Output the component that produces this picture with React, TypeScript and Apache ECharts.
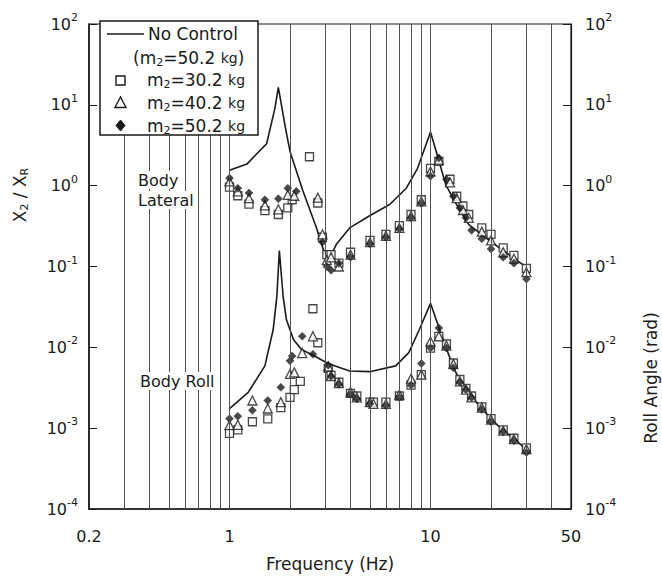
import React, { useEffect, useRef } from "react";
import * as echarts from "echarts";

const FONT = '"DejaVu Sans", "Liberation Sans", sans-serif';
const INK = "#1a1a1a";

// vertical reference lines (Hz)
const gridFrequencies = [0.3, 0.4, 0.5, 0.6, 0.7, 0.8, 0.9, 1, 2, 3, 4, 5, 6, 7, 8, 9, 10, 20, 30, 40];

// No Control (m2 = 50.2 kg) – Body Lateral, X2/XR
const lateralNoControl: [number, number][] = [
  [1.0, 1.55], [1.22, 1.85], [1.53, 3.3], [1.68, 8.9], [1.75, 16.4], [1.89, 5.5], [2.0, 2.65],
  [2.32, 0.86], [2.71, 0.3], [2.91, 0.17], [3.08, 0.12], [3.25, 0.15], [3.41, 0.19], [3.96, 0.3],
  [4.98, 0.425], [6.26, 0.585], [7.58, 0.93], [8.62, 1.64], [10.0, 4.6], [10.8, 2.4], [11.9, 1.03],
  [13.5, 0.58], [15.5, 0.33], [19.6, 0.21], [30, 0.098],
];

// No Control – Body Roll, roll angle (rad)
const rollNoControl: [number, number][] = [
  [1.0, 0.00175], [1.24, 0.00278], [1.5, 0.0059], [1.65, 0.0166], [1.72, 0.0423], [1.77, 0.157],
  [1.85, 0.042], [1.92, 0.0219], [2.08, 0.0125], [2.28, 0.0094], [2.65, 0.0078], [3.09, 0.0063],
  [3.96, 0.0051], [4.98, 0.005], [6.71, 0.0059], [7.8, 0.0086], [8.8, 0.0166], [10.0, 0.035],
  [11.1, 0.0166], [12.9, 0.0059], [14.4, 0.00336], [17.5, 0.0019], [20, 0.00131], [22.8, 0.00095],
  [26, 0.00075], [30, 0.00054],
];

// measured, m2 = 30.2 kg
const lateralM30: [number, number][] = [
  [1.0, 0.96], [1.1, 0.75], [1.25, 0.59], [1.5, 0.49], [1.75, 0.44], [1.95, 0.53], [2.05, 0.67],
  [2.5, 2.28], [2.75, 0.61], [2.9, 0.23], [3.05, 0.14], [3.2, 0.14], [3.5, 0.11], [4.0, 0.15],
  [5.0, 0.21], [6.0, 0.25], [7.0, 0.32], [8.0, 0.44], [9.0, 0.67], [10, 1.64], [11, 2.0],
  [12.5, 1.2], [13.5, 0.74], [14.5, 0.56], [15.5, 0.44], [18, 0.3], [20, 0.25], [23, 0.17],
  [26, 0.137], [30, 0.095],
];
const rollM30: [number, number][] = [
  [1.0, 0.00086], [1.1, 0.00095], [1.3, 0.0012], [1.55, 0.0013], [1.8, 0.0018], [2.0, 0.0024],
  [2.1, 0.003], [2.25, 0.0038], [2.6, 0.03], [2.75, 0.0114], [3.1, 0.0055], [3.2, 0.0045],
  [3.5, 0.0037], [4.0, 0.0027], [4.3, 0.0025], [5.0, 0.0021], [5.2, 0.0021], [6.0, 0.0021],
  [7.0, 0.0025], [8.0, 0.0034], [9.0, 0.0046], [10, 0.0098], [11, 0.0137], [12, 0.011],
  [13, 0.0064], [14, 0.004], [15, 0.0031], [16, 0.0025], [18, 0.00183], [20, 0.00131],
  [23, 0.00095], [26, 0.00075], [30, 0.00057],
];

// measured, m2 = 40.2 kg
const lateralM40: [number, number][] = [
  [1.0, 1.13], [1.1, 0.85], [1.25, 0.7], [1.5, 0.57], [1.75, 0.51], [1.95, 0.77], [2.1, 0.75],
  [2.75, 0.71], [2.9, 0.25], [3.05, 0.12], [3.2, 0.13], [3.5, 0.1], [4.0, 0.14], [5.0, 0.2],
  [6.0, 0.24], [7.0, 0.3], [8.0, 0.42], [9.0, 0.64], [10, 1.5], [11, 2.1], [12.5, 1.1],
  [13.5, 0.7], [14.5, 0.5], [15.5, 0.4], [18, 0.27], [20, 0.21], [23, 0.15], [26, 0.125],
  [30, 0.085],
];
const rollM40: [number, number][] = [
  [1.0, 0.00109], [1.1, 0.0011], [1.3, 0.0022], [1.55, 0.00175], [1.8, 0.0021], [2.0, 0.0047],
  [2.1, 0.0049], [2.3, 0.0085], [2.6, 0.0137], [3.1, 0.0058], [3.2, 0.0044], [3.5, 0.0036],
  [4.0, 0.0028], [4.3, 0.0024], [5.0, 0.0021], [5.2, 0.002], [6.0, 0.002], [7.0, 0.0026],
  [8.0, 0.0041], [9.0, 0.0046], [10, 0.0118], [11, 0.0137], [12, 0.0105], [13, 0.0062],
  [14, 0.0038], [15, 0.003], [16, 0.0024], [18, 0.0018], [20, 0.00128], [23, 0.00093],
  [26, 0.00073], [30, 0.00055],
];

// measured, m2 = 50.2 kg
const lateralM50: [number, number][] = [
  [1.0, 1.24], [1.1, 0.93], [1.25, 0.81], [1.5, 0.67], [1.75, 0.69], [1.95, 0.93], [2.15, 0.85],
  [2.9, 0.2], [3.05, 0.1], [3.2, 0.09], [3.5, 0.11], [4.0, 0.13], [5.0, 0.19], [6.0, 0.23],
  [7.0, 0.29], [8.0, 0.4], [9.0, 0.6], [10, 1.31], [11, 2.2], [12, 1.2], [13, 0.74], [14, 0.53],
  [15, 0.4], [16, 0.28], [18, 0.22], [20, 0.165], [23, 0.13], [26, 0.11], [30, 0.07],
];
const rollM50: [number, number][] = [
  [1.0, 0.00131], [1.1, 0.0014], [1.3, 0.00166], [1.55, 0.0022], [1.8, 0.0032], [2.0, 0.0068],
  [2.05, 0.0078], [2.3, 0.0137], [2.6, 0.0082], [3.1, 0.006], [3.2, 0.0044], [3.5, 0.0035],
  [4.0, 0.0026], [4.3, 0.0023], [5.0, 0.002], [6.0, 0.0019], [7.0, 0.0024], [8.0, 0.0034],
  [9.0, 0.0063], [10, 0.0098], [11, 0.0173], [12, 0.0098], [13, 0.0056], [14, 0.0037],
  [15, 0.003], [16, 0.0024], [18, 0.0017], [20, 0.0012], [23, 0.0009], [26, 0.0007],
  [30, 0.0005],
];

const legendLabels = ["No Control", "(m₂=50.2 kg)", "m₂=30.2 kg", "m₂=40.2 kg", "m₂=50.2 kg"];

const supRich = {
  b: { fontSize: 16, lineHeight: 24, fontFamily: FONT, color: INK },
  s: { fontSize: 11, lineHeight: 11, verticalAlign: "top", fontFamily: FONT, color: INK },
};

function yAxisFor(position: "left" | "right", margin: number) {
  return {
    type: "log",
    logBase: 10,
    min: 1e-4,
    max: 100,
    position,
    axisLine: { show: true, onZero: false, lineStyle: { color: INK, width: position === "left" ? 1.6 : 1.2 } },
    axisTick: { show: true, inside: true, length: 8, lineStyle: { color: INK, width: 1 } },
    splitLine: { show: false },
    minorTick: { show: false },
    axisLabel: {
      margin,
      formatter: (v: number) => `{b|10}{s|${Math.round(Math.log10(v))}}`,
      rich: supRich,
    },
  };
}

function legendText(text: string, x: number, y: number) {
  const m = text.match(/^(\(?)m₂=([\d.]+) kg(\)?)$/);
  const str = m
    ? `{a|${m[1]}m}{sub|2}{a|=${m[2]} }{kg|kg}{a|${m[3]}}`
    : `{a|${text}}`;
  return {
    type: "text",
    x,
    y,
    z: 101,
    style: {
      text: str,
      textAlign: "left",
      textVerticalAlign: "middle",
      rich: {
        a: { fontSize: 17, lineHeight: 20, fontFamily: FONT, fill: INK, color: INK },
        sub: { fontSize: 11, lineHeight: 11, verticalAlign: "bottom", fontFamily: FONT, fill: INK, color: INK },
        kg: { fontSize: 14, lineHeight: 20, fontFamily: FONT, fill: INK, color: INK },
      },
    },
  };
}

export default function App() {
  const ref = useRef<HTMLDivElement>(null);

  useEffect(() => {
    if (!ref.current) return;
    const chart = echarts.init(ref.current, null, { renderer: "svg" });

    const markerSeries = (
      name: string,
      data: [number, number][],
      symbol: string,
      size: number,
      filled: boolean
    ) => ({
      name,
      type: "scatter",
      data,
      symbol,
      symbolSize: size,
      z: 4,
      silent: true,
      itemStyle: filled
        ? { color: INK, borderColor: INK, borderWidth: 0.5 }
        : { color: "#ffffff", borderColor: INK, borderWidth: 1.3 },
    });

    const option: any = {
      animation: false,
      backgroundColor: "#ffffff",
      textStyle: { fontFamily: FONT, color: INK },
      grid: {
        left: 89,
        right: 91,
        top: 24,
        bottom: 62,
        show: true,
        borderColor: INK,
        borderWidth: 1.2,
        backgroundColor: "transparent",
      },
      xAxis: {
        type: "log",
        logBase: 10,
        min: 0.2,
        max: 50,
        axisLine: { show: true, onZero: false, lineStyle: { color: INK, width: 1.5 } },
        axisTick: { show: false },
        splitLine: { show: false },
        minorTick: { show: false },
        axisLabel: {
          margin: 19,
          fontSize: 16,
          fontFamily: FONT,
          color: INK,
          showMinLabel: true,
          showMaxLabel: true,
          formatter: (v: number) => `${parseFloat(v.toPrecision(2))}`,
        },
        name: "Frequency (Hz)",
        nameLocation: "middle",
        nameGap: 46,
        nameTextStyle: { fontSize: 17, fontFamily: FONT, color: INK },
      },
      yAxis: [yAxisFor("left", 11), yAxisFor("right", 14)],
      series: [
        {
          name: "grid",
          type: "line",
          data: [],
          silent: true,
          z: 1,
          markLine: {
            silent: true,
            symbol: ["none", "none"],
            label: { show: false },
            lineStyle: { color: "#505050", width: 1, type: "solid" },
            emphasis: { disabled: true },
            data: gridFrequencies.map((f) => ({ xAxis: f })),
          },
        },
        {
          name: "No Control",
          type: "line",
          data: lateralNoControl,
          symbol: "none",
          z: 3,
          silent: true,
          lineStyle: { color: INK, width: 1.6 },
        },
        {
          name: "No Control roll",
          type: "line",
          data: rollNoControl,
          symbol: "none",
          z: 3,
          silent: true,
          lineStyle: { color: INK, width: 1.6 },
        },
        markerSeries("m₂=30.2 kg", [...lateralM30, ...rollM30], "rect", 8, false),
        markerSeries("m₂=40.2 kg", [...lateralM40, ...rollM40], "triangle", 9, false),
        markerSeries("m₂=50.2 kg", [...lateralM50, ...rollM50], "diamond", 8, true),
      ],
      graphic: [
        {
          type: "rect",
          z: 100,
          shape: { x: 100, y: 21, width: 158, height: 114 },
          style: { fill: "#ffffff", stroke: INK, lineWidth: 1.5 },
        },
        {
          type: "line",
          z: 101,
          shape: { x1: 107, y1: 34, x2: 144, y2: 34 },
          style: { stroke: INK, lineWidth: 1.6 },
        },
        legendText(legendLabels[0], 148, 34),
        legendText(legendLabels[1], 133, 58),
        {
          type: "rect",
          z: 101,
          shape: { x: 116, y: 76, width: 9, height: 9 },
          style: { fill: "#ffffff", stroke: INK, lineWidth: 1.4 },
        },
        legendText(legendLabels[2], 147, 80),
        {
          type: "polygon",
          z: 101,
          shape: { points: [[120.5, 97], [126, 107.5], [115, 107.5]] },
          style: { fill: "#ffffff", stroke: INK, lineWidth: 1.4 },
        },
        legendText(legendLabels[3], 147, 103),
        {
          type: "polygon",
          z: 101,
          shape: { points: [[120.5, 120], [125, 125.5], [120.5, 131], [116, 125.5]] },
          style: { fill: INK, stroke: INK, lineWidth: 1 },
        },
        legendText(legendLabels[4], 147, 126),
        {
          type: "text",
          x: 136,
          y: 180,
          z: 90,
          style: {
            text: "Body",
            font: `16px ${FONT}`,
            fill: INK,
            textAlign: "left",
            textVerticalAlign: "middle",
            backgroundColor: "#ffffff",
            padding: [1, 2],
          },
        },
        {
          type: "text",
          x: 136,
          y: 200,
          z: 90,
          style: {
            text: "Lateral",
            font: `16px ${FONT}`,
            fill: INK,
            textAlign: "left",
            textVerticalAlign: "middle",
            backgroundColor: "#ffffff",
            padding: [1, 2],
          },
        },
        {
          type: "text",
          x: 138,
          y: 381,
          z: 90,
          style: {
            text: "Body Roll",
            font: `16px ${FONT}`,
            fill: INK,
            textAlign: "left",
            textVerticalAlign: "middle",
            backgroundColor: "#ffffff",
            padding: [1, 2],
          },
        },
        {
          type: "text",
          x: 20,
          y: 195,
          rotation: Math.PI / 2,
          z: 90,
          style: {
            text: "{a|X}{sub|2}{a| / X}{sub|R}",
            textAlign: "center",
            textVerticalAlign: "middle",
            rich: {
              a: { fontSize: 17, lineHeight: 20, fontFamily: FONT, fill: INK, color: INK },
              sub: { fontSize: 11, lineHeight: 11, verticalAlign: "bottom", fontFamily: FONT, fill: INK, color: INK },
            },
          },
        },
        {
          type: "text",
          x: 651,
          y: 378,
          rotation: Math.PI / 2,
          z: 90,
          style: {
            text: "Roll Angle (rad)",
            font: `17px ${FONT}`,
            fill: INK,
            textAlign: "center",
            textVerticalAlign: "middle",
          },
        },
      ],
    };

    chart.setOption(option);
    return () => chart.dispose();
  }, []);

  return (
    <div
      ref={ref}
      style={{ position: "fixed", left: 0, top: 0, width: 662, height: 577, background: "#ffffff" }}
    />
  );
}
